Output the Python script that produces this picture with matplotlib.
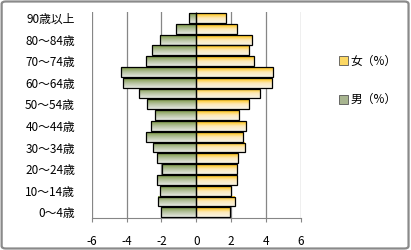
import numpy as np
import matplotlib
matplotlib.use("Agg")
import matplotlib.pyplot as plt
from matplotlib.colors import LinearSegmentedColormap
from matplotlib.patches import Patch, FancyBboxPatch

plt.rcParams['font.family'] = ['Noto Sans CJK JP', 'DejaVu Sans']

# age groups, bottom to top
ages = ['0～4歳', '5～9歳', '10～14歳', '15～19歳', '20～24歳', '25～29歳',
        '30～34歳', '35～39歳', '40～44歳', '45～49歳', '50～54歳', '55～59歳',
        '60～64歳', '65～69歳', '70～74歳', '75～79歳', '80～84歳', '85～89歳',
        '90歳以上']
male = [2.0, 2.17, 2.06, 2.23, 1.96, 2.23, 2.46, 2.86, 2.57, 2.34, 2.8, 3.31,
        4.19, 4.34, 2.91, 2.51, 2.06, 1.14, 0.42]
female = [1.92, 2.21, 1.98, 2.32, 2.32, 2.38, 2.78, 2.67, 2.84, 2.44, 3.01, 3.64,
          4.32, 4.38, 3.30, 3.01, 3.18, 2.32, 1.68]
xticks = [-6, -4, -2, 0, 2, 4, 6]

fig = plt.figure(figsize=(4.11, 2.5), dpi=100)
fig.patch.set_facecolor('white')
fig.patches.append(FancyBboxPatch((0.004, 0.006), 0.99, 0.988, boxstyle='round,pad=0,rounding_size=0.01',
                                  transform=fig.transFigure, fill=False, edgecolor='#8a8a8a', linewidth=1.6))
ax = fig.add_axes([0.223, 0.127, 0.509, 0.825])

y = np.arange(len(ages))
cm_f = LinearSegmentedColormap.from_list('f', ['#ffc000', '#fde9b8', '#f8f3e6'])
cm_m = LinearSegmentedColormap.from_list('m', ['#7b9841', '#b7c3a0', '#e6e8e2'])
grad = np.linspace(0, 1, 64).reshape(-1, 1)

bars_f = ax.barh(y, female, height=0.92, facecolor='none', edgecolor='black', linewidth=0.9, zorder=3)
bars_m = ax.barh(y, [-v for v in male], height=0.92, facecolor='none', edgecolor='black', linewidth=0.9, zorder=3)
for bars, cm in ((bars_f, cm_f), (bars_m, cm_m)):
    for p in bars:
        x0, w, y0, h = p.get_x(), p.get_width(), p.get_y(), p.get_height()
        ax.imshow(grad, extent=[x0, x0 + w, y0, y0 + h], aspect='auto', cmap=cm,
                  interpolation='bilinear', zorder=2)

ax.set_xlim(-6, 6)
ax.set_ylim(-0.55, len(ages) - 0.45)
ax.set_xticks(xticks)
ax.set_xticklabels([str(t) for t in xticks], fontsize=8.5)
ax.set_yticks(y[::2])
ax.set_yticklabels(ages[::2], fontsize=8.5)
ax.tick_params(axis='y', length=0, pad=12)
ax.tick_params(axis='x', length=3, color='#868686', pad=9)
ax.grid(axis='x', color='#868686', linewidth=0.9, zorder=0)
ax.set_axisbelow(True)
for s in ['top', 'right', 'left']:
    ax.spines[s].set_visible(False)
ax.spines['bottom'].set_color('#868686')

handles = [Patch(facecolor='#fcd864', edgecolor='#555555', linewidth=0.6),
           Patch(facecolor='#a8b590', edgecolor='#555555', linewidth=0.6)]
fig.legend(handles, ['女（%）', '男（%）'], loc='upper left', bbox_to_anchor=(0.8, 0.825),
           frameon=False, fontsize=8.5, handlelength=0.75, handleheight=0.75,
           handletextpad=0.2, labelspacing=2.2)

fig.savefig('out.png', dpi=100)
